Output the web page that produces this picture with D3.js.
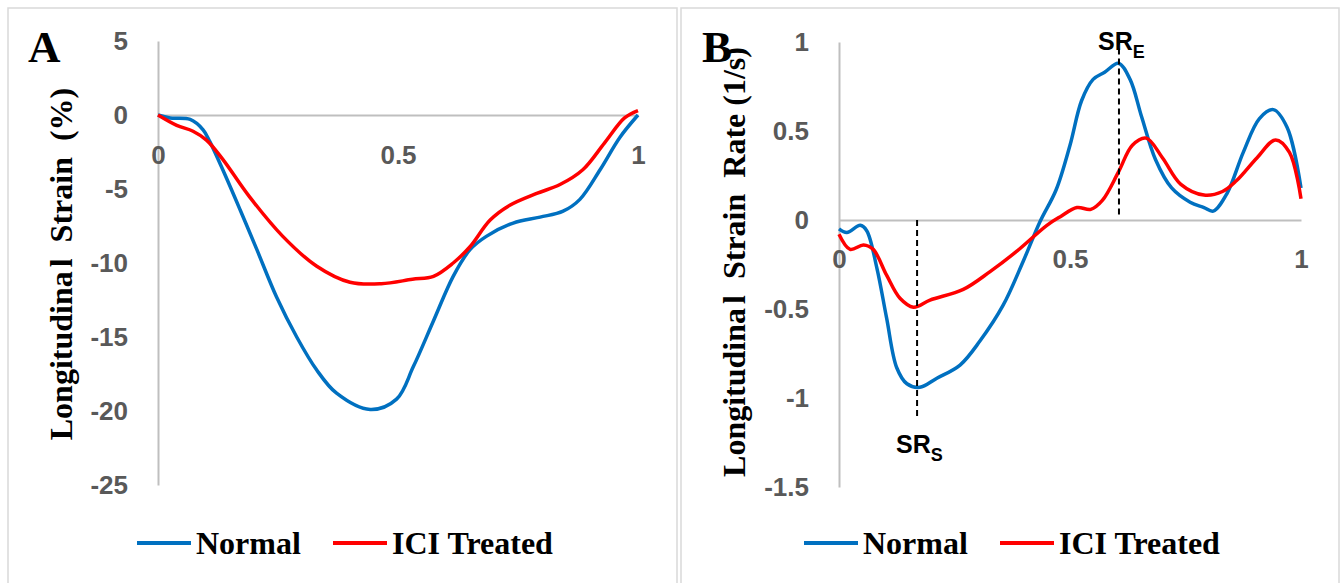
<!DOCTYPE html>
<html>
<head>
<meta charset="utf-8">
<script src="https://cdn.jsdelivr.net/npm/d3@7"></script>
<style>
  body { margin: 0; background: #fff; }
  .tick text { font-family: "Liberation Sans", Arial, sans-serif; font-weight: bold; font-size: 26px; fill: #595959; }
  .domain { stroke: #bfbfbf; stroke-width: 2; }
  .title { font-family: "Liberation Serif", "Times New Roman", serif; font-weight: bold; fill: #000; }
  .note { font-family: "Liberation Sans", Arial, sans-serif; font-weight: bold; fill: #000; }
</style>
</head>
<body>
<div class="chart"></div>
<script>
// panel A: longitudinal strain (%)
var timeA   = [0, 0.025, 0.067, 0.094, 0.108, 0.135, 0.171, 0.206, 0.247, 0.289, 0.33, 0.372, 0.442, 0.497, 0.532, 0.574, 0.615, 0.65, 0.684, 0.74, 0.796, 0.844, 0.879, 0.921, 0.9625, 1.0];
var normalA = [0, -0.2, -0.3, -1, -1.8, -3.7, -6.4, -9.1, -12.3, -15, -17.2, -18.8, -19.9, -19.2, -17, -13.9, -10.9, -9.1, -8.2, -7.3, -6.9, -6.5, -5.7, -3.7, -1.5, 0];
var timeA2  = [0, 0.039, 0.073, 0.101, 0.135, 0.19, 0.26, 0.33, 0.4, 0.465, 0.53, 0.574, 0.615, 0.65, 0.692, 0.733, 0.789, 0.8375, 0.885, 0.93, 0.972, 1.0];
var iciA    = [0, -0.7, -1.1, -1.7, -3, -5.5, -8.2, -10.2, -11.3, -11.4, -11.1, -10.9, -10, -8.9, -7.1, -6.1, -5.3, -4.7, -3.7, -1.9, -0.2, 0.3];
var yTicksA = [5, 0, -5, -10, -15, -20, -25];

// panel B: longitudinal strain rate (1/s)
var timeB   = [0, 0.017, 0.046, 0.06, 0.082, 0.103, 0.125, 0.147, 0.175, 0.211, 0.262, 0.305, 0.355, 0.399, 0.435, 0.47, 0.50, 0.525, 0.55, 0.575, 0.605, 0.63, 0.655, 0.685, 0.72, 0.76, 0.79, 0.81, 0.84, 0.875, 0.91, 0.94, 0.97, 1.0];
var normalB = [-0.05, -0.07, -0.03, -0.06, -0.27, -0.55, -0.83, -0.92, -0.94, -0.89, -0.815, -0.68, -0.48, -0.23, -0.01, 0.17, 0.42, 0.67, 0.79, 0.83, 0.88, 0.79, 0.58, 0.34, 0.18, 0.1, 0.07, 0.05, 0.15, 0.38, 0.57, 0.62, 0.52, 0.18];
var timeB2  = [0, 0.024, 0.053, 0.074, 0.103, 0.132, 0.161, 0.197, 0.269, 0.327, 0.385, 0.45, 0.48, 0.515, 0.545, 0.57, 0.605, 0.635, 0.665, 0.70, 0.74, 0.79, 0.83, 0.86, 0.905, 0.945, 0.975, 1.0];
var iciB    = [-0.08, -0.165, -0.14, -0.165, -0.31, -0.44, -0.49, -0.45, -0.39, -0.29, -0.175, -0.03, 0.02, 0.07, 0.06, 0.11, 0.27, 0.42, 0.46, 0.35, 0.2, 0.14, 0.16, 0.22, 0.35, 0.45, 0.38, 0.12];
var yTicksB = [1, 0.5, 0, -0.5, -1, -1.5];

var xTicks = [0, 0.5, 1];
var seriesNames = ["Normal", "ICI Treated"];
var colors = ["#0070c0", "#ff0000"];

var svg = d3.select(".chart").append("svg")
  .attr("width", 1342)
  .attr("height", 583);

// plain hyphen minus, like the original
var fmt = d => String(d);

function drawPanel(p) {
  var g = svg.append("g");

  // panel frame
  g.append("rect")
    .attr("x", p.frame[0]).attr("y", 8)
    .attr("width", p.frame[1] - p.frame[0]).attr("height", 600)
    .attr("fill", "none").attr("stroke", "#d9d9d9").attr("stroke-width", 1.5);

  var x = d3.scaleLinear().domain([0, 1]).range(p.xRange);
  var y = d3.scaleLinear().domain(p.yDomain).range(p.yRange);

  g.append("g")
    .attr("transform", `translate(${p.xRange[0]},0)`)
    .call(d3.axisLeft(y).tickValues(p.yTicks).tickSize(0).tickPadding(30).tickFormat(fmt));

  g.append("g")
    .attr("transform", `translate(0,${y(0)})`)
    .call(d3.axisBottom(x).tickValues(xTicks).tickSize(0).tickPadding(p.xPad).tickFormat(fmt));

  var line = d3.line()
    .x(d => x(d[0]))
    .y(d => y(d[1]))
    .curve(d3.curveCatmullRom.alpha(0.5));

  p.series.forEach(function(s, i) {
    g.append("path")
      .datum(d3.zip(s[0], s[1]))
      .attr("d", line)
      .attr("fill", "none")
      .attr("stroke", colors[i])
      .attr("stroke-width", 3.5)
      .attr("stroke-linejoin", "round");
  });

  // y title
  var t = g.append("text")
    .attr("class", "title")
    .attr("transform", `translate(${p.titleX},${p.titleY}) rotate(-90)`)
    .attr("text-anchor", "middle")
    .style("font-size", "32px")
    .style("white-space", "pre");
  t.append("tspan").text("Longitudina");
  t.append("tspan").attr("dx", 4).text("l  " + p.titleRest);

  // panel letter
  g.append("text")
    .attr("class", "title")
    .attr("x", p.letterX).attr("y", 62)
    .style("font-size", "45px")
    .text(p.letter);

  // legend
  var lg = g.append("g").attr("transform", `translate(${p.legendX},543)`);
  [0, 196].forEach(function(off, i) {
    lg.append("line")
      .attr("x1", off).attr("x2", off + 54)
      .attr("stroke", colors[i]).attr("stroke-width", 4);
    lg.append("text")
      .attr("class", "title")
      .attr("x", off + 59).attr("y", 11)
      .style("font-size", "32px")
      .text(seriesNames[i]);
  });

  return { x: x, y: y, g: g };
}

drawPanel({
  frame: [8, 677], xRange: [158, 638], yDomain: [-25, 5], yRange: [485, 41],
  yTicks: yTicksA, xPad: 31, series: [[timeA, normalA], [timeA2, iciA]],
  titleX: 72, titleY: 264, titleRest: "Strain  (%)", letter: "A", letterX: 28, legendX: 137
});

var b = drawPanel({
  frame: [681, 1339], xRange: [839, 1301], yDomain: [-1.5, 1], yRange: [487, 42],
  yTicks: yTicksB, xPad: 30, series: [[timeB, normalB], [timeB2, iciB]],
  titleX: 745, titleY: 262, titleRest: "Strain  Rate (1/s)", letter: "B", letterX: 702, legendX: 804
});

// peak markers
var marks = [
  { name: "SR", sub: "E", t: 0.606, from: 1.02, to: 0.01, textY: 50 },
  { name: "SR", sub: "S", t: 0.169, from: 0, to: -1.12, textY: 453 }
];
marks.forEach(function(m) {
  var mx = b.x(m.t);
  b.g.append("line")
    .attr("x1", mx).attr("x2", mx)
    .attr("y1", b.y(m.from)).attr("y2", b.y(m.to))
    .attr("stroke", "#000").attr("stroke-width", 2)
    .attr("stroke-dasharray", "6,4");
  var txt = b.g.append("text")
    .attr("class", "note")
    .attr("x", mx - 21).attr("y", m.textY)
    .style("font-size", "25px")
    .text(m.name);
  txt.append("tspan").attr("dy", 8).style("font-size", "18px").text(m.sub);
});
</script>
</body>
</html>
